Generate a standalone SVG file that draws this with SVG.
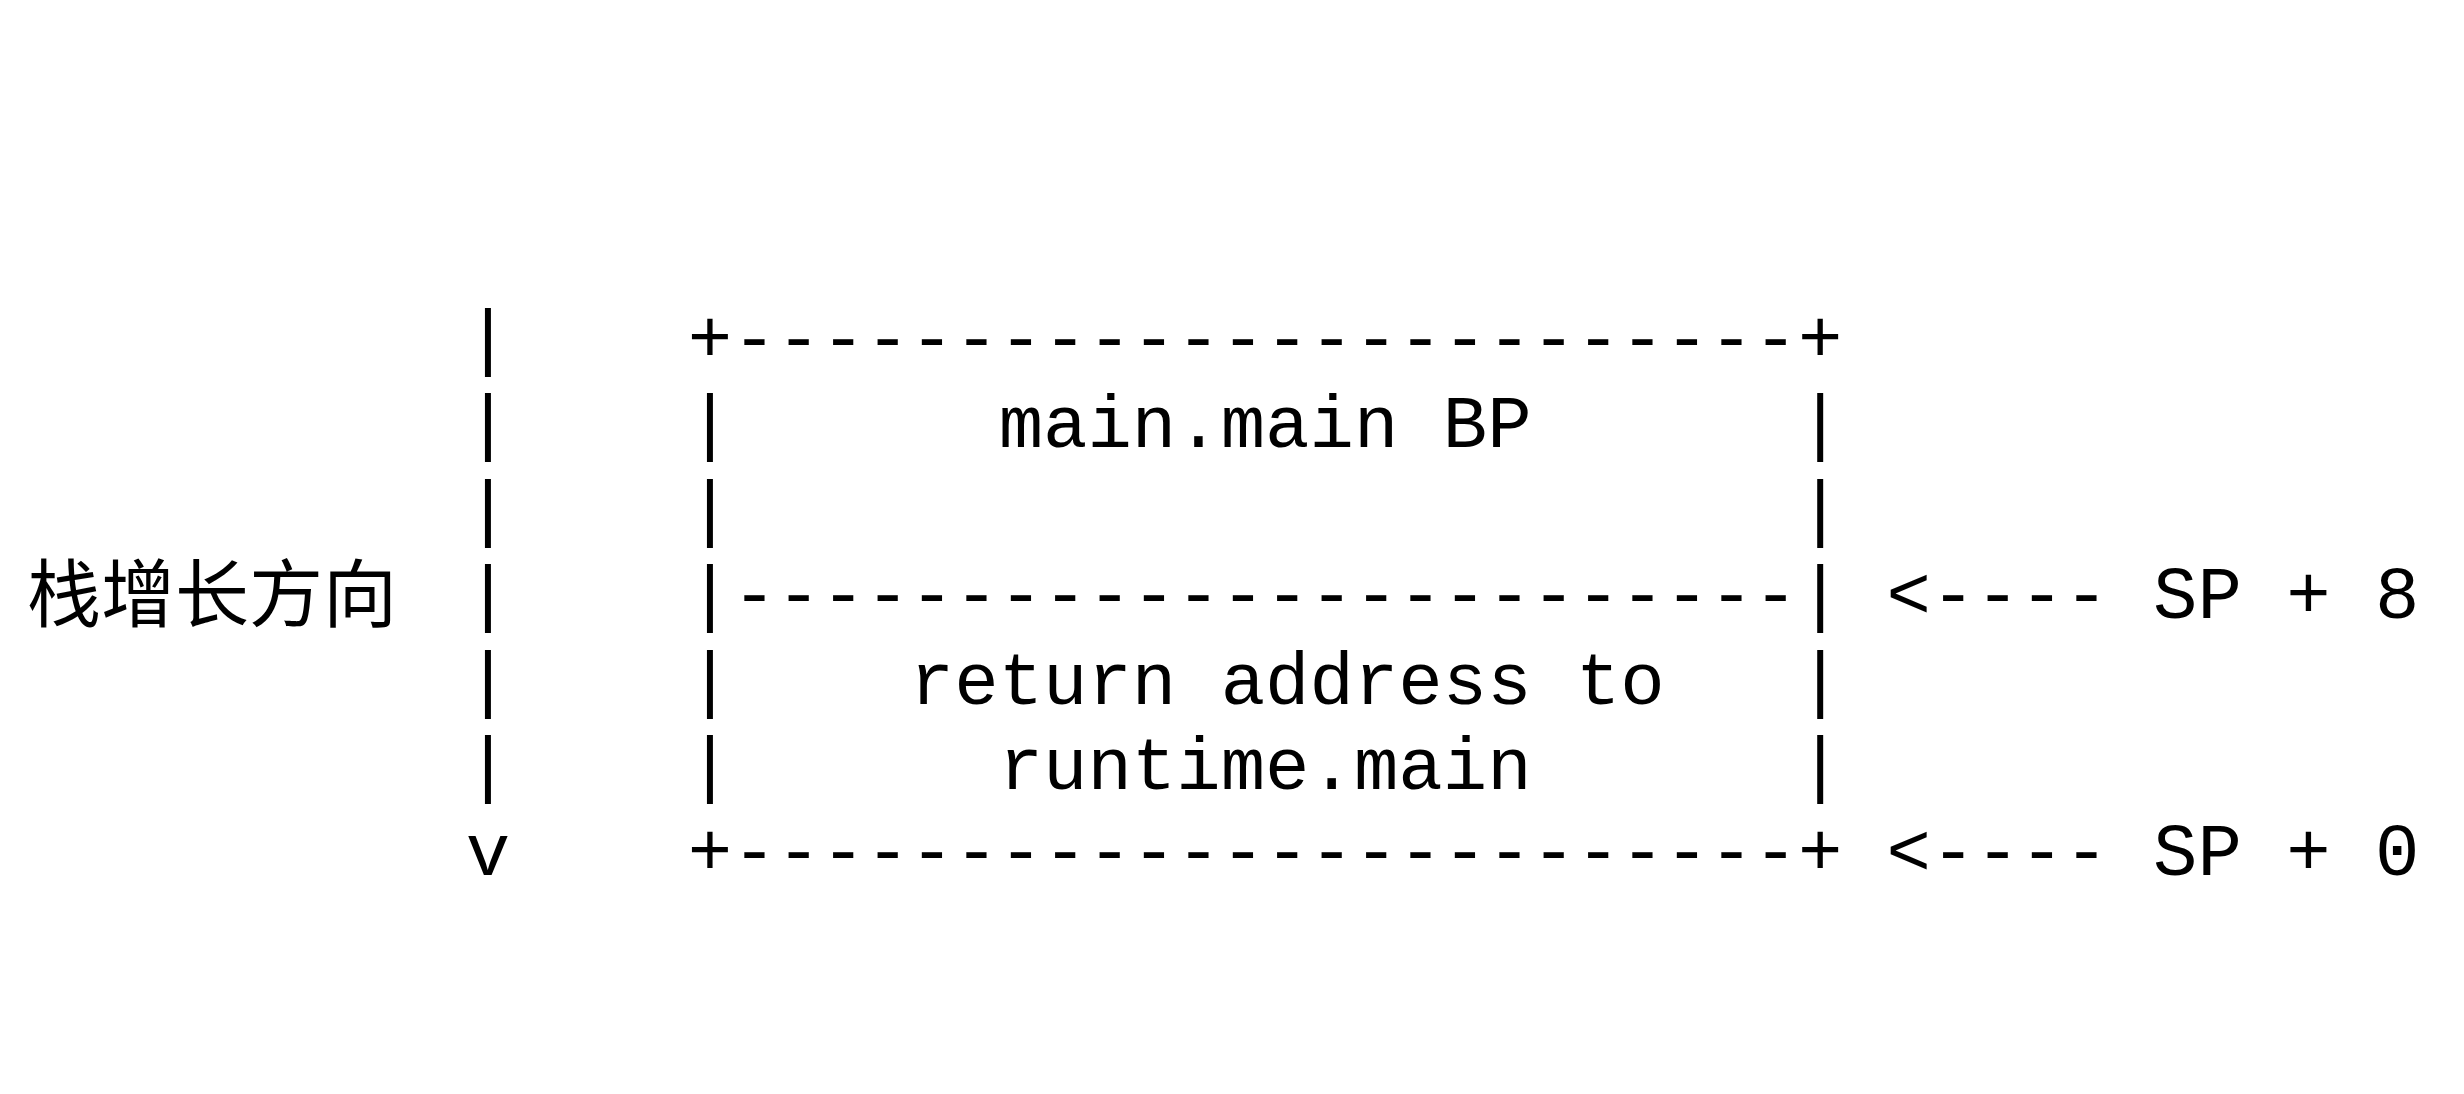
<svg xmlns="http://www.w3.org/2000/svg" width="2464" height="1094" viewBox="0 0 2464 1094">
<style>
  text { font-family: "Liberation Mono", "Noto Sans CJK SC", monospace; font-size: 74px; fill: #000; white-space: pre; }
  .cjk { font-family: "Noto Sans CJK SC", "Noto Sans", sans-serif; font-size: 74px; }
</style>
<rect x="0" y="0" width="2464" height="1094" fill="#fff"/>
<g id="axis">
  <text class="cjk" x="27" y="621">栈增长方向</text>
  <text x="465.8" y="361.5">|</text>
  <text x="465.8" y="447">|</text>
  <text x="465.8" y="532.5">|</text>
  <text x="465.8" y="618">|</text>
  <text x="465.8" y="703.5">|</text>
  <text x="465.8" y="789">|</text>
  <text x="465.8" y="874.5">v</text>
</g>
<g id="stack-frame">
  <text x="687.8" y="361.5" xml:space="preserve">+------------------------+</text>
  <text x="687.8" y="447" xml:space="preserve">|      main.main BP      |</text>
  <text x="687.8" y="532.5" xml:space="preserve">|                        |</text>
  <text x="687.8" y="618" xml:space="preserve">|------------------------|</text>
  <text x="687.8" y="703.5" xml:space="preserve">|    return address to   |</text>
  <text x="687.8" y="789" xml:space="preserve">|      runtime.main      |</text>
  <text x="687.8" y="874.5" xml:space="preserve">+------------------------+</text>
</g>
<g id="connectors">
  <text x="1886.6" y="618">&lt;----</text>
  <text x="1886.6" y="874.5">&lt;----</text>
</g>
<g id="pointer-labels">
  <text x="2153" y="618" xml:space="preserve">SP + 8</text>
  <text x="2153" y="874.5" xml:space="preserve">SP + 0</text>
</g>
</svg>
